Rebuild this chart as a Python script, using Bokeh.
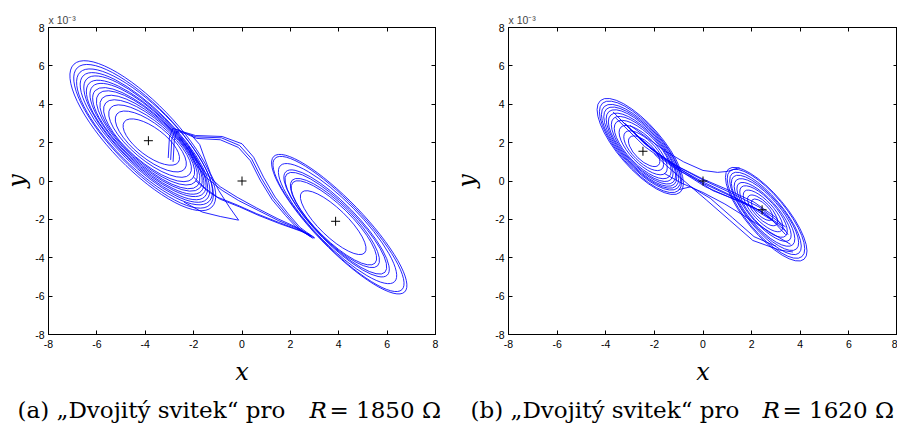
import numpy as np
from bokeh.plotting import figure
from bokeh.layouts import row, column
from bokeh.models import Label, LinearAxis, FixedTicker, Range1d
from bokeh.embed import file_html
from bokeh.resources import INLINE

# ---------------- data (y in units of 1e-3) ----------------
ticks = [-8, -6, -4, -2, 0, 2, 4, 6, 8]
tick_labels = ["-8", "-6", "-4", "-2", "0", "2", "4", "6", "8"]

# equilibrium points (+)
eq_a_x = [-3.87, 0.0, 3.87]
eq_a_y = [2.10, 0.0, -2.10]
eq_b_x = [-2.47, 0.0, 2.43]
eq_b_y = [1.55, 0.0, -1.50]

# panel (a): loops of the left scroll
a_left_cx = [-3.75, -3.77, -3.80, -3.84, -3.86, -3.88, -3.91, -3.93, -3.96, -3.98, -4.01, -4.03, -4.07, -4.10]
a_left_cy = [2.03, 2.06, 2.08, 2.10, 2.13, 2.15, 2.17, 2.20, 2.22, 2.25, 2.27, 2.30, 2.33, 2.36]
a_left_w = [2.79, 3.61, 4.27, 4.76, 5.17, 5.58, 5.91, 6.24, 6.56, 6.89, 7.22, 7.55, 7.88, 8.21]
a_left_h = [1.46, 1.77, 1.98, 2.19, 2.29, 2.40, 2.50, 2.61, 2.71, 2.81, 2.92, 3.13, 3.23, 3.44]
a_left_ang = [-37, -39, -40, -41, -42, -43, -43, -44, -44, -45, -45, -45, -46, -46]

# panel (a): loops of the right scroll
a_right_cx = [3.77, 3.80, 3.84, 3.88, 3.91, 3.95, 3.99, 4.02]
a_right_cy = [-2.17, -2.18, -2.19, -2.20, -2.21, -2.22, -2.24, -2.25]
a_right_w = [3.61, 4.76, 5.00, 5.74, 5.99, 6.73, 7.55, 7.79]
a_right_h = [1.46, 1.77, 1.88, 1.98, 2.08, 2.29, 2.40, 2.50]
a_right_ang = [-44, -44.5, -45, -45, -45.5, -45.5, -46, -46]

# panel (a): transitions between the scrolls
a_tr_x = [
    [-3.05, -3.0, -2.85, -2.4, -1.92, -0.82, 0.0, 0.48, 0.89, 1.37, 1.91, 2.39, 2.67, 3.0],
    [-2.95, -2.9, -2.75, -2.35, -1.9, -0.85, -0.1, 0.4, 0.8, 1.3, 1.85, 2.35, 2.65, 3.0],
    [-2.85, -2.8, -2.7, -2.3, -1.88, -0.9, -0.15, 0.35, 0.75, 1.25, 1.8, 2.3, 2.62, 2.95],
    [2.9, 2.32, 1.5, 0.68, -0.14, -0.82, -1.5, -1.92, -2.19, -2.6],
    [2.85, 2.32, 1.45, 0.6, -0.2, -0.9, -1.5, -1.9, -2.2],
    [-2.4, -1.64, -0.9, -0.14, -0.5, -0.96, -1.3, -1.55, -1.75, -2.1],
    [-2.0, -1.5, -1.0, -0.2, 0.6, 1.5, 2.35, 2.8],
    [-1.9, -1.4, -0.9, -0.1, 0.7, 1.55, 2.4, 2.85],
]
a_tr_y = [
    [1.2, 2.3, 2.75, 2.55, 2.37, 2.32, 1.94, 1.24, 0.2, -0.84, -1.71, -2.41, -2.67, -2.95],
    [1.1, 2.2, 2.7, 2.5, 2.3, 2.25, 1.85, 1.15, 0.15, -0.9, -1.75, -2.45, -2.7, -2.98],
    [1.0, 2.1, 2.6, 2.45, 2.22, 2.15, 1.75, 1.05, 0.05, -0.98, -1.8, -2.48, -2.72, -3.0],
    [-2.95, -2.49, -2.06, -1.54, -1.02, -0.49, 0.2, 0.9, 1.59, 2.3],
    [-2.9, -2.45, -1.95, -1.4, -0.85, -0.3, 0.4, 1.1, 1.8],
    [-1.1, -1.62, -1.85, -2.04, -1.4, -0.5, 0.38, 1.2, 1.9, 2.4],
    [0.2, -0.4, -0.85, -1.25, -1.7, -2.15, -2.55, -2.8],
    [0.0, -0.55, -0.95, -1.35, -1.8, -2.22, -2.6, -2.85],
]

# panel (b): loops of the left scroll
b_left_cx = [-2.42, -2.44, -2.46, -2.48, -2.50, -2.51, -2.53, -2.54, -2.55, -2.57, -2.58]
b_left_cy = [1.55, 1.58, 1.61, 1.64, 1.67, 1.69, 1.72, 1.74, 1.76, 1.78, 1.80]
b_left_w = [1.64, 2.13, 2.63, 3.12, 3.45, 3.77, 4.02, 4.27, 4.51, 4.76, 5.00]
b_left_h = [0.94, 1.15, 1.35, 1.56, 1.67, 1.77, 1.88, 1.98, 2.08, 2.19, 2.29]
b_left_ang = [-44, -45, -46, -46, -47, -47, -48, -48, -48, -49, -49]

# panel (b): loops of the right scroll
b_right_cx = [2.43, 2.45, 2.47, 2.49, 2.51, 2.53, 2.55, 2.57, 2.59, 2.60]
b_right_cy = [-1.50, -1.53, -1.56, -1.59, -1.61, -1.64, -1.66, -1.69, -1.71, -1.73]
b_right_w = [1.15, 1.64, 2.22, 2.71, 3.12, 3.53, 3.94, 4.27, 4.60, 4.84]
b_right_h = [0.63, 0.83, 1.04, 1.25, 1.35, 1.56, 1.67, 1.77, 1.98, 2.08]
b_right_ang = [-45, -46, -47, -48, -48, -49, -49, -50, -50, -50]

# panel (b): transitions between the scrolls
b_tr_x = [
    [-3.7, -2.45, -1.25, 0.0, 1.2, 2.3, 3.4],
    [-3.6, -2.4, -1.2, 0.05, 1.25, 2.35, 3.4],
    [-3.2, -2.2, -1.1, 0.0, 1.1, 2.1, 3.0, 3.5],
    [3.7, 3.15, 2.05, 1.1, 0.15, -0.8, -1.5, -2.0],
    [-1.0, -0.5, 0.3, 1.2, 2.1, 3.0],
    [-3.0, -1.6, -0.8, 0.0, 0.6, 1.0, 1.5],
    [-2.9, -1.7, -0.6, 0.4, 1.5, 2.6, 3.4],
    [-3.4, -2.3, -1.15, 0.0, 1.15, 2.2, 3.2],
    [-2.6, -1.8, -0.9, 0.1, 1.0, 1.9, 2.9],
    [-1.6, -0.9, 0.0, 0.9, 1.8, 2.8, 3.6],
]
b_tr_y = [
    [3.6, 2.0, 0.9, 0.05, -0.65, -1.35, -2.4],
    [3.3, 1.8, 0.7, -0.15, -0.85, -1.55, -2.6],
    [3.0, 1.75, 0.8, 0.1, -0.5, -1.1, -1.9, -2.8],
    [-3.7, -3.6, -3.1, -2.05, -1.0, 0.03, 0.8, 1.4],
    [-0.45, -0.3, -0.9, -1.9, -2.9, -3.4],
    [2.9, 1.6, 1.0, 0.55, 0.45, 0.5, 0.7],
    [2.6, 1.25, 0.35, -0.5, -1.05, -1.7, -2.8],
    [3.2, 1.85, 0.75, -0.05, -0.75, -1.45, -2.3],
    [2.2, 1.3, 0.5, -0.3, -0.8, -1.3, -2.1],
    [0.4, -0.1, -0.6, -1.2, -1.9, -2.7, -3.3],
]

caption_text = ["(a)  „Dvojitý svitek“ pro", "(b)  „Dvojitý svitek“ pro"]
caption_var = ["R", "R"]
caption_value = ["= 1850 Ω", "= 1620 Ω"]

LINE = "#0000ff"
TICK_FONT = "Liberation Sans"
SERIF = "DejaVu Serif"
FIG_H = 390


def make_panel(width, border_left, border_right, ylabel_standoff, loops, tr_x, tr_y, eq_x, eq_y):
    p = figure(width=width, height=FIG_H, x_range=Range1d(-8, 8), y_range=Range1d(-8, 8),
               output_backend="svg", toolbar_location=None,
               min_border_left=border_left, min_border_right=border_right,
               min_border_top=27, min_border_bottom=FIG_H - 27 - 307,
               background_fill_color="white", border_fill_color="white")
    p.grid.visible = False
    p.outline_line_color = "black"
    p.outline_line_width = 1
    p.outline_line_alpha = 1.0
    p.xaxis.visible = False
    p.yaxis.visible = False

    p.title.text = "x 10⁻³"
    p.title.align = "left"
    p.title.text_font = TICK_FONT
    p.title.text_font_size = "10.5px"
    p.title.text_font_style = "normal"
    p.title.standoff = 3

    overrides = {t: s for t, s in zip(ticks, tick_labels)}
    for side in ("left", "below", "right", "above"):
        ax = LinearAxis(ticker=FixedTicker(ticks=ticks))
        ax.major_tick_in = 4
        ax.major_tick_out = 0
        ax.minor_tick_line_color = None
        ax.major_tick_line_color = "black"
        ax.axis_line_color = "black"
        if side in ("left", "below"):
            ax.major_label_overrides = overrides
            ax.major_label_text_font = TICK_FONT
            ax.major_label_text_font_size = "10.5px"
            ax.major_label_text_color = "black"
            ax.axis_label_text_font = SERIF
            ax.axis_label_text_font_style = "italic"
            ax.axis_label_text_font_size = "24px"
            ax.axis_label_text_color = "black"
            if side == "left":
                ax.major_label_standoff = 4
                ax.axis_label = "y"
                ax.axis_label_standoff = ylabel_standoff
            else:
                ax.major_label_standoff = 5
                ax.axis_label = "x"
                ax.axis_label_standoff = 7
        else:
            ax.major_label_text_font_size = "0px"
            ax.major_label_standoff = 0
            ax.major_label_text_alpha = 0
        p.add_layout(ax, side)

    for (cx, cy, w, h, ang) in loops:
        p.ellipse(x=cx, y=cy, width=w, height=h, angle=np.radians(ang),
                  fill_color=None, line_color=LINE, line_width=1.0, line_alpha=0.85)
    p.multi_line(tr_x, tr_y, line_color=LINE, line_width=1.0, line_alpha=0.85)
    p.scatter(eq_x, eq_y, marker="cross", size=9, line_color="black", line_width=1)
    return p


loops_a = list(zip(a_left_cx, a_left_cy, a_left_w, a_left_h, a_left_ang)) + \
          list(zip(a_right_cx, a_right_cy, a_right_w, a_right_h, a_right_ang))
loops_b = list(zip(b_left_cx, b_left_cy, b_left_w, b_left_h, b_left_ang)) + \
          list(zip(b_right_cx, b_right_cy, b_right_w, b_right_h, b_right_ang))

pa = make_panel(448, 45, 13, 1, loops_a, a_tr_x, a_tr_y, eq_a_x, eq_a_y)
pb = make_panel(449, 60, 0, 11, loops_b, b_tr_x, b_tr_y, eq_b_x, eq_b_y)

# caption strip (pixel coordinates of the strip)
STRIP_H = 425 - FIG_H
cap = figure(width=897, height=STRIP_H, x_range=Range1d(0, 897), y_range=Range1d(0, STRIP_H),
             output_backend="svg", toolbar_location=None, x_axis_type=None, y_axis_type=None,
             title=None, min_border=0, min_border_left=0, min_border_right=0,
             min_border_top=0, min_border_bottom=0)
cap.grid.visible = False
cap.outline_line_color = None
base_y = 16
for i, x0 in enumerate([17, 470]):
    cap.add_layout(Label(x=x0, y=base_y, text=caption_text[i], text_font=SERIF,
                         text_font_size="23px", text_baseline="alphabetic", text_color="black"))
    cap.add_layout(Label(x=x0 + 292, y=base_y, text=caption_var[i], text_font=SERIF,
                         text_font_style="italic", text_font_size="23px",
                         text_baseline="alphabetic", text_color="black"))
    cap.add_layout(Label(x=x0 + 312, y=base_y, text=caption_value[i], text_font=SERIF,
                         text_font_size="23px", text_baseline="alphabetic", text_color="black"))

layout = column(row(pa, pb), cap)
open("out.html", "w").write(file_html(layout, INLINE))
